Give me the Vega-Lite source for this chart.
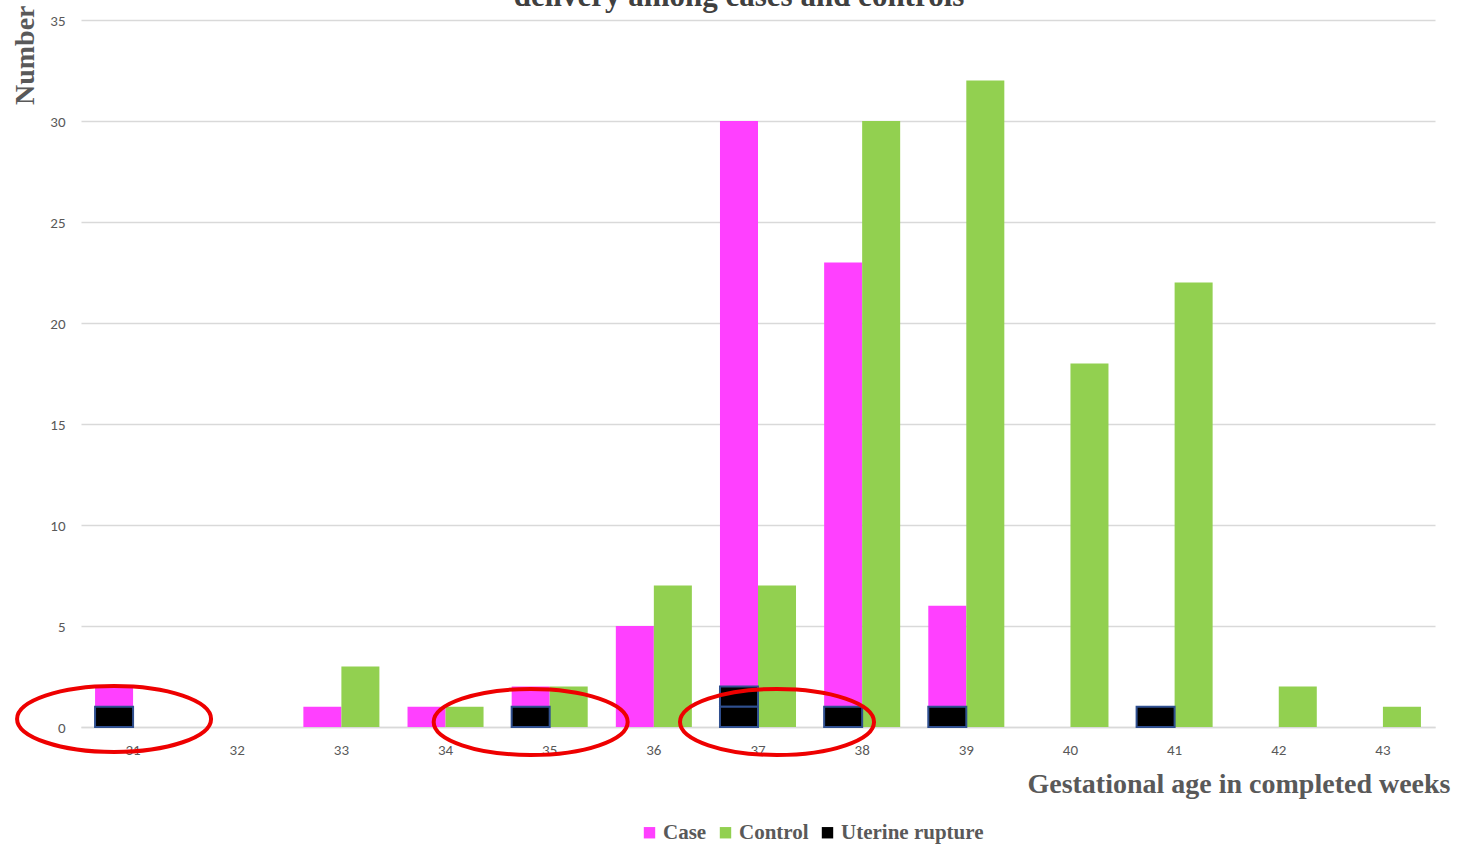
{
  "$schema": "https://vega.github.io/schema/vega-lite/v6.json",
  "autosize": "none",
  "width": 1354,
  "height": 707,
  "padding": {"left": 81, "top": 20, "right": 27, "bottom": 118},
  "background": "white",
  "title": {
    "text": "delivery among cases and controls",
    "font": "Liberation Serif",
    "fontSize": 31,
    "fontWeight": "bold",
    "color": "#404040",
    "anchor": "middle",
    "baseline": "alphabetic",
    "frame": "group",
    "offset": -32,
    "dx": -19
  },
  "datasets": {
    "bars": [
      {"week": "31", "series": "Case", "count": 2},
      {"week": "31", "series": "Control", "count": 0},
      {"week": "32", "series": "Case", "count": 0},
      {"week": "32", "series": "Control", "count": 0},
      {"week": "33", "series": "Case", "count": 1},
      {"week": "33", "series": "Control", "count": 3},
      {"week": "34", "series": "Case", "count": 1},
      {"week": "34", "series": "Control", "count": 1},
      {"week": "35", "series": "Case", "count": 2},
      {"week": "35", "series": "Control", "count": 2},
      {"week": "36", "series": "Case", "count": 5},
      {"week": "36", "series": "Control", "count": 7},
      {"week": "37", "series": "Case", "count": 30},
      {"week": "37", "series": "Control", "count": 7},
      {"week": "38", "series": "Case", "count": 23},
      {"week": "38", "series": "Control", "count": 30},
      {"week": "39", "series": "Case", "count": 6},
      {"week": "39", "series": "Control", "count": 32},
      {"week": "40", "series": "Case", "count": 0},
      {"week": "40", "series": "Control", "count": 18},
      {"week": "41", "series": "Case", "count": 0},
      {"week": "41", "series": "Control", "count": 22},
      {"week": "42", "series": "Case", "count": 0},
      {"week": "42", "series": "Control", "count": 2},
      {"week": "43", "series": "Case", "count": 0},
      {"week": "43", "series": "Control", "count": 1}
    ],
    "rupture": [
      {"id": 1, "week": "31", "count": 1},
      {"id": 2, "week": "35", "count": 1},
      {"id": 3, "week": "37", "count": 1},
      {"id": 4, "week": "37", "count": 1},
      {"id": 5, "week": "38", "count": 1},
      {"id": 6, "week": "39", "count": 1},
      {"id": 7, "week": "41", "count": 1}
    ],
    "marks": [
      {"week": "31", "series": "Case", "level": 0.4},
      {"week": "35", "series": "Case", "level": 0.25},
      {"week": "37", "series": "Control", "level": 0.25}
    ]
  },
  "layer": [
    {
      "data": {"name": "bars"},
      "mark": {"type": "bar"},
      "encoding": {
        "x": {
          "field": "week",
          "type": "nominal",
          "scale": {"paddingInner": 0.27, "paddingOuter": 0.135},
          "axis": {
            "title": "Gestational age in completed weeks",
            "titleFont": "Liberation Serif",
            "titleFontWeight": "bold",
            "titleFontSize": 28,
            "titleColor": "#595959",
            "titleAnchor": "end",
            "titleAlign": "right",
            "titleBaseline": "middle",
            "titleX": 1369,
            "titleY": 57,
            "labelFont": "Carlito, Liberation Sans Narrow, Open Sans",
            "labelFontSize": 15,
            "labelColor": "#595959",
            "labelAngle": 0,
            "labelPadding": 15,
            "ticks": false,
            "domainColor": "#D9D9D9",
            "domainWidth": 1.5,
            "grid": false
          }
        },
        "xOffset": {"field": "series", "type": "nominal", "scale": {"domain": ["Case", "Control"], "paddingInner": 0, "paddingOuter": 0}},
        "y": {
          "field": "count",
          "type": "quantitative",
          "scale": {"domain": [0, 35], "nice": false},
          "axis": {
            "title": "Number",
            "titleFont": "Liberation Serif",
            "titleFontWeight": "bold",
            "titleFontSize": 28,
            "titleColor": "#595959",
            "titleAngle": 270,
            "titleAlign": "right",
            "titleBaseline": "middle",
            "titleX": -56,
            "titleY": -15,
            "values": [0, 5, 10, 15, 20, 25, 30, 35],
            "labelFont": "Carlito, Liberation Sans Narrow, Open Sans",
            "labelFontSize": 15,
            "labelColor": "#595959",
            "labelPadding": 16,
            "ticks": false,
            "domain": false,
            "gridColor": "#D9D9D9",
            "gridWidth": 1.5
          }
        },
        "color": {
          "field": "series",
          "type": "nominal",
          "scale": {"domain": ["Case", "Control", "Uterine rupture"], "range": ["#FF40FF", "#92D050", "#000000"]},
          "legend": {
            "orient": "none",
            "legendX": 558,
            "legendY": 802,
            "direction": "horizontal",
            "title": null,
            "symbolType": "square",
            "symbolSize": 130,
            "symbolStrokeWidth": 0,
            "labelFont": "Liberation Serif",
            "labelFontWeight": "bold",
            "labelFontSize": 21,
            "labelColor": "#595959",
            "columnPadding": 8,
            "labelOffset": 3
          }
        }
      }
    },
    {
      "data": {"name": "rupture"},
      "mark": {"type": "bar", "stroke": "#2F4F8F", "strokeWidth": 2},
      "encoding": {
        "x": {"field": "week", "type": "nominal"},
        "xOffset": {"datum": "Case"},
        "y": {"field": "count", "type": "quantitative", "stack": "zero"},
        "detail": {"field": "id", "type": "nominal"},
        "color": {"datum": "Uterine rupture"}
      }
    },
    {
      "data": {"name": "marks"},
      "mark": {
        "type": "point",
        "shape": "M -1 0 A 1 0.34 0 1 1 1 0 A 1 0.34 0 1 1 -1 0 Z",
        "filled": false,
        "stroke": "#EE0000",
        "strokeWidth": 4,
        "opacity": 1,
        "size": 37636
      },
      "encoding": {
        "x": {"field": "week", "type": "nominal"},
        "xOffset": {"field": "series", "type": "nominal"},
        "y": {"field": "level", "type": "quantitative"}
      }
    }
  ],
  "config": {
    "view": {"stroke": null}
  }
}
